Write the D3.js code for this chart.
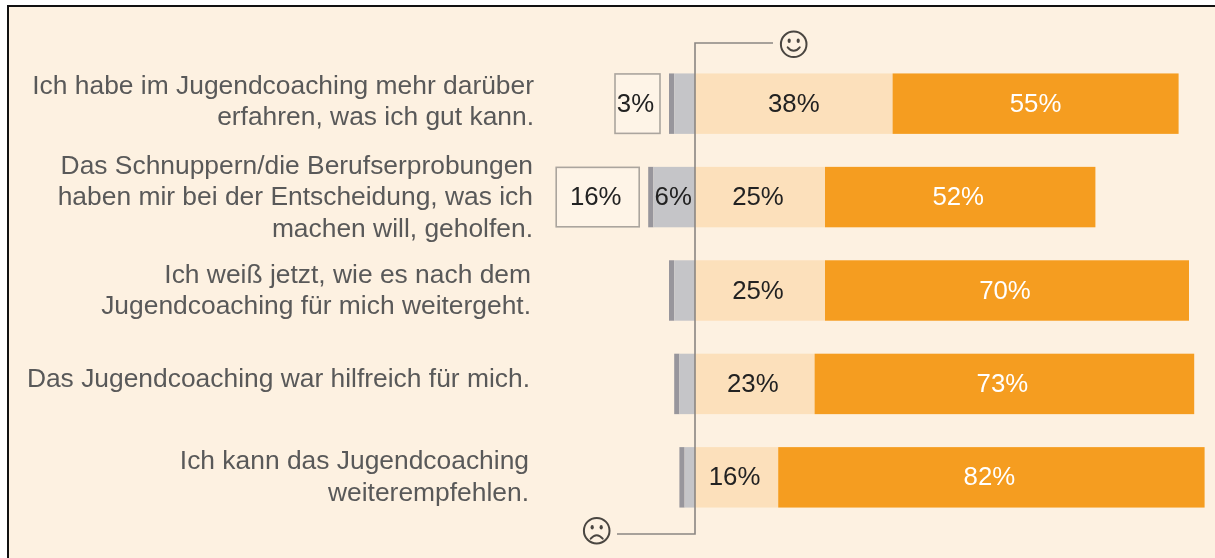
<!DOCTYPE html>
<html lang="de">
<head>
<meta charset="utf-8">
<script src="https://cdn.jsdelivr.net/npm/d3@7"></script>
<style>
html,body{margin:0;padding:0;background:#fff;overflow:hidden}
svg{display:block;filter:blur(0.35px)}
text{font-family:"Liberation Sans",Arial,sans-serif}
</style>
</head>
<body>
<script>
const categories = [
  ["Ich habe im Jugendcoaching mehr darüber", "erfahren, was ich gut kann."],
  ["Das Schnuppern/die Berufserprobungen", "haben mir bei der Entscheidung, was ich", "machen will, geholfen."],
  ["Ich weiß jetzt, wie es nach dem", "Jugendcoaching für mich weitergeht."],
  ["Das Jugendcoaching war hilfreich für mich."],
  ["Ich kann das Jugendcoaching", "weiterempfehlen."]
];
const stronglyNegative = [1, 1, 1, 1, 1];
const negative = [4, 8, 4, 3, 2];
const positive = [38, 25, 25, 23, 16];
const stronglyPositive = [55, 52, 70, 73, 82];
const boxedLabels = ["3%", "16%", null, null, null];
const negativeLabels = [null, "6%", null, null, null];
const positiveLabels = ["38%", "25%", "25%", "23%", "16%"];
const stronglyPositiveLabels = ["55%", "52%", "70%", "73%", "82%"];

const W = 1215, H = 558;
const colors = {bg:"#FDF1E1", orange:"#F59D20", light:"#FCE0BB", grey:"#C5C5C8", dark:"#98969C", line:"#8A8683", text:"#595959", value:"#222222"};
const labelRight = [534, 533, 531, 530, 529];
const labelShift = [-3, -1, -1, -6, -1.5];
const boxWidth = [45, 83];
const valueShift = [0, -2, -2, -2, -2];
const FS = 26.4, VFS = 25.8, BASE = 9;

const x = d3.scaleLinear().domain([0, 100]).range([695, 1215]);
const y = d3.scaleBand().domain(d3.range(categories.length)).range([57, 524]).paddingInner(0.353).paddingOuter(0.176);

const svg = d3.select("body").append("svg").attr("width", W).attr("height", H);
svg.append("rect").attr("width", W).attr("height", H).attr("fill", "#fff");
svg.append("rect").attr("x", 8).attr("y", 6).attr("width", W).attr("height", H).attr("fill", colors.bg)
  .attr("stroke", "#111").attr("stroke-width", 2);

const rows = svg.selectAll("g.row").data(categories).join("g").attr("class", "row");

// stacked bars
function seg(x0fn, x1fn, color) {
  rows.append("rect")
    .attr("x", (d, i) => x(x0fn(i)))
    .attr("width", (d, i) => x(x1fn(i)) - x(x0fn(i)))
    .attr("y", (d, i) => y(i))
    .attr("height", y.bandwidth())
    .attr("fill", color);
}
seg(i => -negative[i] - stronglyNegative[i], i => -negative[i], colors.dark);
seg(i => -negative[i], () => 0, colors.grey);
seg(() => 0, i => positive[i], colors.light);
seg(i => positive[i], i => positive[i] + stronglyPositive[i], colors.orange);

// category labels
rows.each(function(lines, i) {
  const cy = y(i) + y.bandwidth() / 2 + labelShift[i];
  const t = d3.select(this).append("text").attr("text-anchor", "end").attr("fill", colors.text)
    .attr("font-size", FS);
  lines.forEach((l, j) => {
    t.append("tspan").attr("x", labelRight[i])
      .attr("y", cy + (j - (lines.length - 1) / 2) * 31.5 + BASE).text(l);
  });
});

// value labels
function valueLabel(sel, xfn, labels, fill) {
  sel.append("text")
    .attr("x", (d, i) => xfn(i))
    .attr("y", (d, i) => y(i) + y.bandwidth() / 2 + BASE - 1)
    .attr("text-anchor", "middle")
    .attr("font-size", VFS)
    .attr("fill", fill)
    .text((d, i) => labels[i]);
}
valueLabel(rows, i => x(positive[i] / 2) + (i === 0 ? 0 : valueShift[i]), positiveLabels, colors.value);
valueLabel(rows, i => x(positive[i] + stronglyPositive[i] / 2) + valueShift[i], stronglyPositiveLabels, "#fff");
valueLabel(rows, i => x(-negative[i] / 2) - 1, negativeLabels, colors.value);

// boxed labels
rows.filter((d, i) => boxedLabels[i]).each(function(d) {
  const i = categories.indexOf(d);
  const g = d3.select(this);
  const right = x(-negative[i] - stronglyNegative[i]) - 9;
  g.append("rect").attr("x", right - boxWidth[i]).attr("y", y(i) + 0.5)
    .attr("width", boxWidth[i]).attr("height", y.bandwidth() - 1)
    .attr("fill", "#FEF4E7").attr("stroke", "#ABA59E").attr("stroke-width", 1.6);
  g.append("text").attr("x", right - boxWidth[i] / 2 - 2).attr("y", y(i) + y.bandwidth() / 2 + BASE - 1)
    .attr("text-anchor", "middle").attr("font-size", VFS).attr("fill", colors.value).text(boxedLabels[i]);
});

// axis line with faces
const line = d3.line();
svg.append("path").attr("fill", "none").attr("stroke", colors.line).attr("stroke-width", 1.6)
  .attr("d", line([[773, 43], [x(0), 43], [x(0), 534], [617, 534]]));

function face(cx, cy, happy) {
  const g = svg.append("g").attr("transform", `translate(${cx},${cy})`)
    .attr("fill", "none").attr("stroke", "#4A4641").attr("stroke-width", 2);
  g.append("circle").attr("r", 12.8);
  [-4.5, 4.5].forEach(dx => g.append("ellipse").attr("cx", dx).attr("cy", -3.5).attr("rx", 1.6).attr("ry", 2.2)
    .attr("fill", "#4A4641").attr("stroke", "none"));
  g.append("path").attr("d", happy ? "M-6,3 Q0,10 6,3" : "M-6,8 Q0,1 6,8").attr("stroke-linecap", "round");
}
face(793.7, 44.3, true);
face(596.7, 530.7, false);
</script>
</body>
</html>
